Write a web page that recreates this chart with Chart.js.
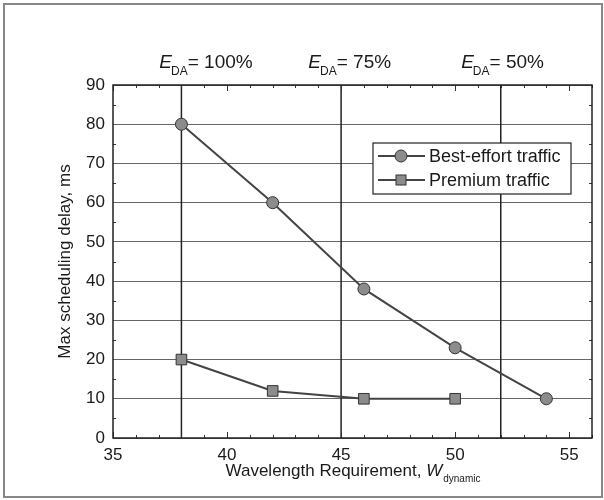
<!DOCTYPE html>
<html>
<head>
<meta charset="utf-8">
<script src="https://cdn.jsdelivr.net/npm/chart.js@4"></script>
<style>
  html, body { margin: 0; padding: 0; background: #fff; }
  #wrap { width: 604px; height: 500px; }
</style>
</head>
<body>
<div id="wrap"><canvas id="delayChart" width="604" height="500"></canvas></div>
<script>
'use strict';

// ********************* DATA *********************

let bestEffortX = [38, 42, 46, 50, 54];
let bestEffortDelay = [80, 60, 38, 23, 10];
let premiumX = [38, 42, 46, 50];
let premiumDelay = [20, 12, 10, 10];

let efficiencyX = [38, 45, 52];          // vertical E_DA lines
let efficiencyLabels = ['100%', '75%', '50%'];
let efficiencyLabelX = [39.1, 45.4, 52.1];

let xTickLabels = [35, 40, 45, 50, 55];
let yTickLabels = [0, 10, 20, 30, 40, 50, 60, 70, 80, 90];

let seriesNames = ['Best-effort traffic', 'Premium traffic'];

// ********************* STYLE *********************

const FONT = "'Liberation Sans', Arial, Helvetica, sans-serif";
const INK = '#1a1a1a';
const LINE = '#444';
const MARK = '#8c8c8c';

function toPoints(xs, ys) {
  return xs.map((v, i) => ({ x: v, y: ys[i] }));
}

// ********************* DECORATION PLUGIN *********************

const figureDecor = {
  id: 'figureDecor',
  beforeDatasetsDraw(chart) {
    const { ctx, chartArea: a, scales: { x, y } } = chart;
    ctx.save();

    // E_DA vertical lines
    ctx.strokeStyle = '#222';
    ctx.lineWidth = 1.5;
    efficiencyX.forEach(v => {
      const px = x.getPixelForValue(v);
      ctx.beginPath();
      ctx.moveTo(px, a.top);
      ctx.lineTo(px, a.bottom);
      ctx.stroke();
    });

    // inward tick marks
    ctx.strokeStyle = '#333';
    ctx.lineWidth = 1;
    for (let v = 35; v <= 56; v++) {
      const px = Math.round(x.getPixelForValue(v)) + 0.5;
      const len = v % 5 === 0 ? 6 : 3;
      ctx.beginPath();
      ctx.moveTo(px, a.bottom); ctx.lineTo(px, a.bottom - len);
      ctx.moveTo(px, a.top); ctx.lineTo(px, a.top + len);
      ctx.stroke();
    }
    for (let v = 5; v < 90; v += 10) {
      const py = Math.round(y.getPixelForValue(v)) + 0.5;
      ctx.beginPath();
      ctx.moveTo(a.left, py); ctx.lineTo(a.left + 3, py);
      ctx.moveTo(a.right, py); ctx.lineTo(a.right - 3, py);
      ctx.stroke();
    }

    // plot frame
    ctx.strokeStyle = '#222';
    ctx.lineWidth = 1.5;
    ctx.strokeRect(a.left, a.top, a.right - a.left, a.bottom - a.top);
    ctx.restore();
  },

  afterDraw(chart) {
    const { ctx, chartArea: a, scales: { x } } = chart;
    ctx.save();
    ctx.fillStyle = INK;
    ctx.textBaseline = 'alphabetic';

    // E_DA labels above plot
    efficiencyLabels.forEach((txt, i) => {
      const cx = x.getPixelForValue(efficiencyLabelX[i]);
      const base = a.top - 17;
      ctx.font = 'italic 19px ' + FONT;
      const wE = ctx.measureText('E').width;
      ctx.font = '12px ' + FONT;
      const wS = ctx.measureText('DA').width;
      ctx.font = '19px ' + FONT;
      const wR = ctx.measureText('= ' + txt).width;
      let left = cx - (wE + wS + wR) / 2;
      ctx.font = 'italic 19px ' + FONT;
      ctx.textAlign = 'left';
      ctx.fillText('E', left, base);
      ctx.font = '12px ' + FONT;
      ctx.fillText('DA', left + wE - 1, base + 7);
      ctx.font = '19px ' + FONT;
      ctx.fillText('= ' + txt, left + wE + wS - 1, base);
    });

    // x-axis title with subscript
    const main = 'Wavelength Requirement, ';
    ctx.font = '17px ' + FONT;
    const wMain = ctx.measureText(main).width;
    ctx.font = 'italic 17px ' + FONT;
    const wW = ctx.measureText('W').width;
    ctx.font = '10px ' + FONT;
    const wSub = ctx.measureText('dynamic').width;
    const xc = (a.left + a.right) / 2;
    let tx = xc - (wMain + wW + wSub) / 2;
    const tb = 476;
    ctx.textAlign = 'left';
    ctx.font = '17px ' + FONT;
    ctx.fillText(main, tx, tb);
    ctx.font = 'italic 17px ' + FONT;
    ctx.fillText('W', tx + wMain, tb);
    ctx.font = '10px ' + FONT;
    ctx.fillText('dynamic', tx + wMain + wW + 1, tb + 6);

    // legend box
    const bx = a.right - 219, by = a.top + 58, bw = 198, bh = 51;
    ctx.fillStyle = '#fff';
    ctx.fillRect(bx, by, bw, bh);
    ctx.strokeStyle = '#222';
    ctx.lineWidth = 1.2;
    ctx.strokeRect(bx, by, bw, bh);
    const rows = [by + 13, by + 37];
    rows.forEach((ry, i) => {
      ctx.strokeStyle = LINE;
      ctx.lineWidth = 2;
      ctx.beginPath();
      ctx.moveTo(bx + 5, ry); ctx.lineTo(bx + 52, ry);
      ctx.stroke();
      ctx.fillStyle = MARK;
      ctx.strokeStyle = '#333';
      ctx.lineWidth = 1;
      if (i === 0) {
        ctx.beginPath();
        ctx.arc(bx + 28, ry, 6, 0, Math.PI * 2);
        ctx.fill(); ctx.stroke();
      } else {
        ctx.fillRect(bx + 23, ry - 5, 10, 10);
        ctx.strokeRect(bx + 23, ry - 5, 10, 10);
      }
      ctx.fillStyle = INK;
      ctx.font = '18px ' + FONT;
      ctx.textBaseline = 'middle';
      ctx.fillText(seriesNames[i], bx + 56, ry + 1);
      ctx.textBaseline = 'alphabetic';
    });

    // outer figure frame
    ctx.strokeStyle = '#888';
    ctx.lineWidth = 2;
    ctx.strokeRect(4, 4, 598, 493);
    ctx.restore();
  }
};

const whiteBg = {
  id: 'whiteBg',
  beforeDraw(chart) {
    const c = chart.ctx;
    c.save();
    c.fillStyle = '#fff';
    c.fillRect(0, 0, chart.width, chart.height);
    c.restore();
  }
};

// ********************* CHART *********************

let ctx = document.getElementById('delayChart');

new Chart(ctx, {
  type: 'line',
  data: {
    datasets: [
      {
        label: seriesNames[0],
        data: toPoints(bestEffortX, bestEffortDelay),
        borderColor: LINE,
        borderWidth: 2,
        pointStyle: 'circle',
        pointRadius: 6,
        pointBackgroundColor: MARK,
        pointBorderColor: '#333',
        pointBorderWidth: 1,
        tension: 0
      },
      {
        label: seriesNames[1],
        data: toPoints(premiumX, premiumDelay),
        borderColor: LINE,
        borderWidth: 2,
        pointStyle: 'rect',
        pointRadius: 7.5,
        pointBackgroundColor: MARK,
        pointBorderColor: '#333',
        pointBorderWidth: 1,
        tension: 0
      }
    ]
  },
  options: {
    responsive: false,
    animation: false,
    events: [],
    layout: { padding: { top: 85, right: 12, bottom: 0, left: 0 } },
    plugins: {
      legend: { display: false },
      tooltip: { enabled: false }
    },
    scales: {
      x: {
        type: 'linear',
        min: 35,
        max: 56,
        afterFit(scale) { scale.height = 62; },
        afterBuildTicks(scale) {
          scale.ticks = xTickLabels.map(v => ({ value: v }));
        },
        grid: { display: false, drawTicks: false },
        border: { display: false },
        ticks: {
          padding: 7,
          color: INK,
          maxRotation: 0,
          font: { family: FONT, size: 17 }
        }
      },
      y: {
        type: 'linear',
        min: 0,
        max: 90,
        afterFit(scale) { scale.width = 113; },
        afterBuildTicks(scale) {
          scale.ticks = yTickLabels.map(v => ({ value: v }));
        },
        grid: { color: '#666', lineWidth: 1, drawTicks: false },
        border: { display: false },
        ticks: {
          padding: 8,
          color: INK,
          font: { family: FONT, size: 17 }
        },
        title: {
          display: true,
          text: 'Max scheduling delay, ms',
          color: INK,
          font: { family: FONT, size: 17 },
          padding: { top: 55, bottom: 0 }
        }
      }
    }
  },
  plugins: [whiteBg, figureDecor]
});
</script>
</body>
</html>
